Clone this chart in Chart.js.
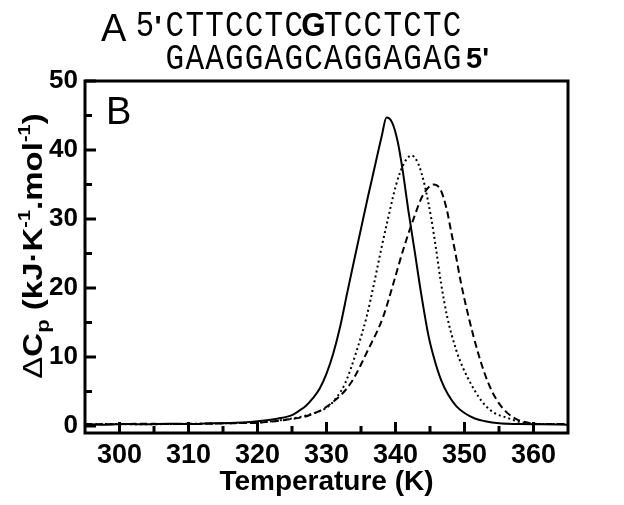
<!DOCTYPE html>
<html>
<head>
<meta charset="utf-8">
<script src="https://cdn.jsdelivr.net/npm/chart.js@4"></script>
<style>
  body { margin: 0; background: #fff; }
  #wrap { width: 624px; height: 505px; }
</style>
</head>
<body>
<div id="wrap"><canvas id="myChart" width="624" height="505"></canvas></div>
<script>
// DSC curves (T in K, dCp in kJ/K/mol)
const solidT = [295, 298, 301, 304, 307, 310, 313, 316, 319, 321, 323, 325, 326, 327, 328, 329, 330, 331, 332, 333, 334, 335, 336, 337, 338, 338.7, 339.5, 340.3, 341, 341.9, 342.8, 343.7, 344.8, 345.6, 346.6, 347.6, 348.8, 350, 351.5, 353, 355, 358, 361, 365];
const solidCp = [0.3, 0.2, 0.3, 0.25, 0.35, 0.3, 0.4, 0.45, 0.6, 0.8, 1.1, 1.6, 2.2, 2.9, 4.0, 5.4, 7.6, 10.6, 14.5, 19.3, 24, 28.6, 33.2, 37.6, 42, 44.7, 44, 41.3, 37.3, 31, 25.2, 19.3, 13, 9.8, 6.7, 4.6, 2.9, 1.9, 1.1, 0.7, 0.4, 0.3, 0.25, 0.2];

const dotT = [295, 299, 303, 307, 311, 315, 318, 320, 323, 325, 327.6, 330.2, 331.5, 332.7, 334.4, 335.8, 336.9, 337.9, 338.9, 340.1, 341.2, 342.3, 343.3, 344.2, 345.2, 345.9, 346.6, 347.5, 348.8, 349.8, 351, 352, 353.2, 354.5, 355.9, 358, 361, 365];
const dotCp = [0.2, 0.3, 0.25, 0.3, 0.35, 0.4, 0.45, 0.5, 0.8, 1.1, 1.7, 2.8, 4.2, 6.2, 11, 15.8, 20.7, 25.5, 30, 35, 38, 39.2, 38, 35, 30, 25.5, 20.7, 15.8, 11, 8.4, 6.0, 4.3, 2.8, 1.8, 1.3, 0.6, 0.3, 0.3];

const dashT = [295, 299, 303, 307, 311, 315, 318, 320, 324, 327.6, 330.7, 333.5, 336, 338.2, 339.7, 341.1, 342.6, 344, 345.5, 346.5, 347.4, 348.1, 348.6, 349.5, 350.6, 352, 353, 354, 355, 356, 357, 358, 361, 365];
const dashCp = [0.3, 0.25, 0.35, 0.3, 0.3, 0.4, 0.45, 0.5, 0.9, 1.6, 3.3, 6.2, 11, 15.8, 20.7, 25.5, 30, 33.5, 35, 34.3, 31.5, 28, 25.5, 20.7, 15.8, 10.5, 7.4, 5.0, 3.3, 2.1, 1.3, 0.8, 0.3, 0.3];

const xMajor = [300, 310, 320, 330, 340, 350, 360];
const xMinor = [305, 315, 325, 335, 345, 355];
const yMajor = [0, 10, 20, 30, 40, 50];
const yMinor = [5, 15, 25, 35, 45];

const seqTop = "CTTCCTCGTCCTCTC";
const seqBottom = "GAAGGAGCAGGAGAG";

const FONT = "'Liberation Sans', Arial, sans-serif";
const MONO = "'Liberation Mono', 'Courier New', monospace";

function pts(xs, ys) {
  return xs.map((x, i) => ({ x: x, y: ys[i] }));
}

// draw one glyph squeezed a bit sideways, centered at x
function squeezed(ctx, ch, x, y, sx) {
  ctx.save();
  ctx.translate(x, y);
  ctx.scale(sx, 1);
  ctx.fillText(ch, 0, 0);
  ctx.restore();
}

// box, inward ticks, panel labels, y title
const framePlugin = {
  id: "frame",
  afterDraw(chart) {
    const ctx = chart.ctx;
    const a = chart.chartArea;
    const xs = chart.scales.x, ys = chart.scales.y;
    ctx.save();
    ctx.strokeStyle = "#000";
    ctx.lineWidth = 3;
    ctx.strokeRect(a.left, a.top, a.right - a.left, a.bottom - a.top);

    ctx.beginPath();
    xMajor.forEach((v) => {
      const p = xs.getPixelForValue(v);
      ctx.moveTo(p, a.bottom);
      ctx.lineTo(p, a.bottom - 11);
    });
    xMinor.forEach((v) => {
      const p = xs.getPixelForValue(v);
      ctx.moveTo(p, a.bottom);
      ctx.lineTo(p, a.bottom - 7);
    });
    yMajor.forEach((v) => {
      const p = ys.getPixelForValue(v);
      ctx.moveTo(a.left, p);
      ctx.lineTo(a.left + 11, p);
    });
    yMinor.forEach((v) => {
      const p = ys.getPixelForValue(v);
      ctx.moveTo(a.left, p);
      ctx.lineTo(a.left + 7, p);
    });
    ctx.stroke();

    ctx.fillStyle = "#000";
    ctx.textBaseline = "alphabetic";
    ctx.textAlign = "left";

    // panel letters
    ctx.font = "38px " + FONT;
    ctx.fillText("A", 101, 41);
    ctx.fillText("B", 106, 124);

    // sequence, one char per mono cell
    const cell = 19.8;
    const x0 = 165;
    ctx.textAlign = "center";
    ctx.font = "36px " + MONO;
    squeezed(ctx, "5", 145, 36, 0.85);
    ctx.font = "bold 30px " + FONT;
    ctx.fillText("'", 158, 36);
    for (let i = 0; i < seqTop.length; i++) {
      ctx.font = i === 7 ? "bold 33px " + FONT : "36px " + MONO;
      squeezed(ctx, seqTop[i], x0 + cell * (i + 0.5), 36, i === 7 ? 0.95 : 0.86);
    }
    ctx.font = "36px " + MONO;
    for (let i = 0; i < seqBottom.length; i++) {
      squeezed(ctx, seqBottom[i], x0 + cell * (i + 0.5), 69, 0.86);
    }
    ctx.textAlign = "left";
    ctx.font = "bold 29px " + FONT;
    ctx.fillText("5'", x0 + cell * seqBottom.length + 4, 68);

    // y axis title with sub/superscripts, a bit condensed across
    const parts = [
      { t: "\u0394", f: "33px " + FONT, dy: 0 },
      { t: "C", f: "bold 33px " + FONT, dy: 0 },
      { t: "p", f: "bold 22px " + FONT, dy: 8 },
      { t: " (kJ\u00b7K", f: "bold 33px " + FONT, dy: 0 },
      { t: "-1", f: "bold 20px " + FONT, dy: -14 },
      { t: ".mol", f: "bold 33px " + FONT, dy: 0 },
      { t: "-1", f: "bold 20px " + FONT, dy: -14 },
      { t: ")", f: "bold 33px " + FONT, dy: 0 },
    ];
    let total = 0;
    parts.forEach((p) => {
      ctx.font = p.f;
      p.w = ctx.measureText(p.t).width;
      total += p.w;
    });
    ctx.translate(42, 246);
    ctx.rotate(-Math.PI / 2);
    ctx.scale(1, 0.84);
    let cx = -total / 2;
    parts.forEach((p) => {
      ctx.font = p.f;
      ctx.fillText(p.t, cx, p.dy);
      cx += p.w;
    });
    ctx.restore();
  },
};

const config = {
  type: "line",
  data: {
    datasets: [
      {
        label: "solid",
        data: pts(solidT, solidCp),
        borderColor: "#000",
        borderWidth: 2,
        pointRadius: 0,
        cubicInterpolationMode: "monotone",
      },
      {
        label: "dotted",
        data: pts(dotT, dotCp),
        borderColor: "#000",
        borderWidth: 2,
        borderDash: [2, 3],
        pointRadius: 0,
        cubicInterpolationMode: "monotone",
      },
      {
        label: "dashed",
        data: pts(dashT, dashCp),
        borderColor: "#000",
        borderWidth: 2,
        borderDash: [7, 4],
        pointRadius: 0,
        cubicInterpolationMode: "monotone",
      },
    ],
  },
  options: {
    responsive: false,
    animation: false,
    layout: { padding: { top: 81, right: 56, left: 0, bottom: 0 } },
    plugins: { legend: { display: false }, tooltip: { enabled: false } },
    scales: {
      x: {
        type: "linear",
        min: 295,
        max: 365,
        afterFit: (s) => { s.height = 72; },
        afterBuildTicks: (s) => { s.ticks = xMajor.map((v) => ({ value: v })); },
        grid: { display: false, drawTicks: false },
        border: { display: false },
        ticks: { color: "#000", padding: 6, maxRotation: 0, font: { family: FONT, size: 27, weight: "bold" } },
        title: {
          display: true,
          text: "Temperature (K)",
          color: "#000",
          padding: { top: 0, bottom: 6 },
          font: { family: FONT, size: 28, weight: "bold" },
        },
      },
      y: {
        min: -1,
        max: 50,
        afterFit: (s) => { s.width = 85; },
        afterBuildTicks: (s) => { s.ticks = yMajor.map((v) => ({ value: v })); },
        grid: { display: false, drawTicks: false },
        border: { display: false },
        ticks: { color: "#000", padding: 7, font: { family: FONT, size: 26, weight: "bold" } },
      },
    },
  },
  plugins: [framePlugin],
};

var myChart = new Chart(document.getElementById("myChart"), config);
</script>
</body>
</html>
